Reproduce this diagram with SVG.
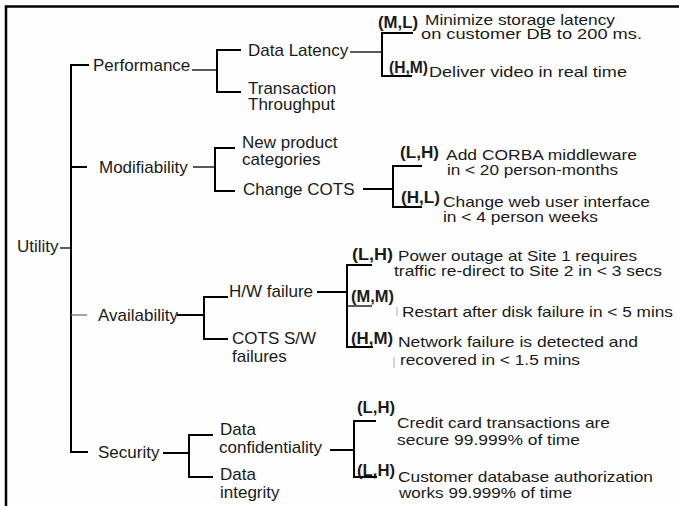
<svg xmlns="http://www.w3.org/2000/svg" width="679" height="506" viewBox="0 0 679 506">
<style>
text{font-family:"Liberation Sans",Arial,sans-serif;fill:#1a1a1a}
.n{font-size:17px}
.r{font-size:15px}
.b{font-size:16px;font-weight:bold}
.c line,.c path{stroke:#000;fill:none}
.k{stroke-width:2}
.t{stroke-width:1.3}
.g{stroke:#666!important;stroke-width:1.2}
.a{stroke:#aaa!important;stroke-width:1}
</style>
<rect x="0" y="0" width="679" height="506" fill="#fefefe"/>
<rect x="6" y="6.5" width="720" height="540" fill="none" stroke="#000" stroke-width="2.5"/>
<g id="connectors" class="c">
<path class="k" d="M89 65H71V452H88"/>
<line class="k" x1="71" y1="167" x2="87" y2="167"/>
<line class="g" x1="71" y1="315" x2="87" y2="315"/>
<line class="t" x1="60" y1="248" x2="71" y2="248"/>
<line class="t" x1="192" y1="70" x2="217" y2="70"/>
<path class="k" d="M241 50H217V92H241"/>
<line class="t" x1="350" y1="52" x2="382" y2="52"/>
<path class="k" d="M413 33H382V76H412"/>
<line class="t" x1="193" y1="167" x2="215" y2="167"/>
<path class="k" d="M235 148H215V191H235"/>
<line class="k" x1="363" y1="189" x2="393" y2="189"/>
<path class="k" d="M422 166H393V207H422"/>
<line class="k" x1="177" y1="315" x2="204" y2="315"/>
<path class="k" d="M228 297H204V339H228"/>
<line class="k" x1="317" y1="292" x2="347" y2="292"/>
<path class="k" d="M372 265H347V347H373"/>
<line class="t" x1="347" y1="306" x2="372" y2="306"/>
<line class="k" x1="163" y1="453" x2="189" y2="453"/>
<path class="k" d="M213 435H189V477H213"/>
<line class="k" x1="330" y1="450" x2="354" y2="450"/>
<path class="k" d="M376 421H354V477H377"/>
<line class="a" x1="397" y1="307" x2="397" y2="316"/>
<line class="a" x1="394" y1="357" x2="394" y2="368"/>
</g>
<g id="utility"><text class="n" x="17" y="252">Utility</text></g>
<g id="performance"><text class="n" x="93" y="71">Performance</text></g>
<g id="modifiability"><text class="n" x="99" y="173">Modifiability</text></g>
<g id="availability"><text class="n" x="98" y="321">Availability</text></g>
<g id="security"><text class="n" x="98" y="458">Security</text></g>
<g id="data-latency"><text class="n" x="248" y="56">Data Latency</text></g>
<g id="transaction-throughput"><text class="n" x="248" y="94">Transaction</text><text class="n" x="248" y="110">Throughput</text></g>
<g id="new-product"><text class="n" x="242" y="148">New product</text><text class="n" x="242" y="165">categories</text></g>
<g id="change-cots"><text class="n" x="243" y="195">Change COTS</text></g>
<g id="hw-failure"><text class="n" x="229" y="297">H/W failure</text></g>
<g id="cots-sw"><text class="n" x="232" y="344">COTS S/W</text><text class="n" x="232" y="362">failures</text></g>
<g id="data-conf"><text class="n" x="220" y="435">Data</text><text class="n" x="219" y="453">confidentiality</text></g>
<g id="data-integrity"><text class="n" x="220" y="480">Data</text><text class="n" x="220" y="498">integrity</text></g>
<g id="s1"><text class="b" x="378" y="28" textLength="40" lengthAdjust="spacingAndGlyphs">(M,L)</text><text class="r" x="425" y="25" textLength="190" lengthAdjust="spacingAndGlyphs">Minimize storage latency</text><text class="r" x="421" y="39" textLength="221" lengthAdjust="spacingAndGlyphs">on customer DB to 200 ms.</text></g>
<g id="s2"><text class="b" x="389" y="73" textLength="39" lengthAdjust="spacingAndGlyphs">(H,M)</text><text class="r" x="429" y="77" textLength="198" lengthAdjust="spacingAndGlyphs">Deliver video in real time</text></g>
<g id="s3"><text class="b" x="400" y="158" textLength="39" lengthAdjust="spacingAndGlyphs">(L,H)</text><text class="r" x="446" y="160" textLength="191" lengthAdjust="spacingAndGlyphs">Add CORBA middleware</text><text class="r" x="447" y="175" textLength="171" lengthAdjust="spacingAndGlyphs">in &lt; 20 person-months</text></g>
<g id="s4"><text class="b" x="401" y="203" textLength="39" lengthAdjust="spacingAndGlyphs">(H,L)</text><text class="r" x="443" y="207" textLength="207" lengthAdjust="spacingAndGlyphs">Change web user interface</text><text class="r" x="443" y="222" textLength="155" lengthAdjust="spacingAndGlyphs">in &lt; 4 person weeks</text></g>
<g id="s5"><text class="b" x="352" y="260" textLength="41" lengthAdjust="spacingAndGlyphs">(L,H)</text><text class="r" x="398" y="261" textLength="239" lengthAdjust="spacingAndGlyphs">Power outage at Site 1 requires</text><text class="r" x="394" y="276" textLength="268" lengthAdjust="spacingAndGlyphs">traffic re-direct to Site 2 in &lt; 3 secs</text></g>
<g id="s6"><text class="b" x="351" y="302" textLength="43" lengthAdjust="spacingAndGlyphs">(M,M)</text><text class="r" x="402" y="317" textLength="271" lengthAdjust="spacingAndGlyphs">Restart after disk failure in &lt; 5 mins</text></g>
<g id="s7"><text class="b" x="351" y="344" textLength="42" lengthAdjust="spacingAndGlyphs">(H,M)</text><text class="r" x="398" y="347" textLength="240" lengthAdjust="spacingAndGlyphs">Network failure is detected and</text><text class="r" x="400" y="365" textLength="180" lengthAdjust="spacingAndGlyphs">recovered in &lt; 1.5 mins</text></g>
<g id="s8"><text class="b" x="357" y="413" textLength="38" lengthAdjust="spacingAndGlyphs">(L,H)</text><text class="r" x="397" y="428" textLength="213" lengthAdjust="spacingAndGlyphs">Credit card transactions are</text><text class="r" x="397" y="445" textLength="183" lengthAdjust="spacingAndGlyphs">secure 99.999% of time</text></g>
<g id="s9"><text class="b" x="357" y="476" textLength="38" lengthAdjust="spacingAndGlyphs">(L,H)</text><text class="r" x="398" y="482" textLength="255" lengthAdjust="spacingAndGlyphs">Customer database authorization</text><text class="r" x="399" y="498" textLength="173" lengthAdjust="spacingAndGlyphs">works 99.999% of time</text></g>
</svg>
